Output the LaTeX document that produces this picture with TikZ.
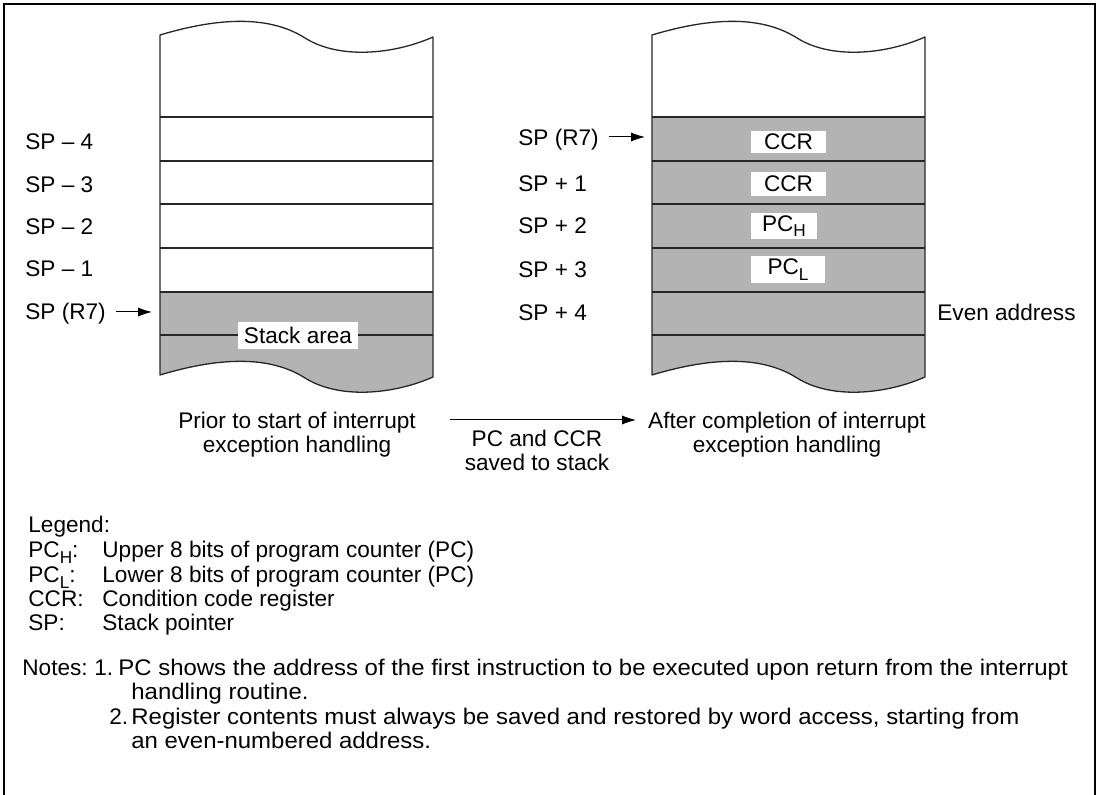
\documentclass[tikz,border=0pt]{standalone}
\usepackage{fontspec}
\setmainfont{Liberation Sans}
\usetikzlibrary{arrows.meta}
\definecolor{stackgray}{RGB}{179,179,179}
\newcommand\lsub[1]{\raisebox{-2.8pt}{\fontsize{8.6}{9}\selectfont #1}}
\begin{document}
\begin{tikzpicture}[x=0.5pt,y=-0.5pt,
  declare function={bz(\a,\b,\c,\d,\u)=(1-\u)^3*\a+3*(1-\u)^2*\u*\b+3*(1-\u)*\u^2*\c+\u^3*\d;},
  every node/.style={font=\fontsize{11.3}{12.2}\selectfont, inner sep=0pt},
  lab/.style={anchor=base west},
  mid/.style={anchor=base},
  stackline/.style={line width=0.65pt, draw=black!85, line join=round},
  arr/.style={line width=0.5pt, -{Latex[length=7pt,width=4.6pt]}},
  regbox/.style={fill=white, anchor=center},
  wv/.style={domain=0:1, samples=36, variable=\x}]
\useasboundingbox (0,0) rectangle (1100,795);
% frame
\draw[line width=1pt] (4,800) -- (4,4) -- (1095,4) -- (1095,800);
% left stack
\begin{scope}[xshift=80pt]
 \fill[white] (0,35) -- plot[wv] ({bz(0,70,115,145,\x)},{bz(35,14,19,38,\x)}) -- plot[wv] ({bz(145,180,235,273,\x)},{bz(38,60,54,37,\x)}) -- (273,377) -- plot[wv] ({bz(273,235,180,145,\x)},{bz(377,394,400,378,\x)}) -- plot[wv] ({bz(145,115,70,0,\x)},{bz(378,359,354,375,\x)}) -- cycle;
 \begin{scope}
  \clip (0,35) -- plot[wv] ({bz(0,70,115,145,\x)},{bz(35,14,19,38,\x)}) -- plot[wv] ({bz(145,180,235,273,\x)},{bz(38,60,54,37,\x)}) -- (273,377) -- plot[wv] ({bz(273,235,180,145,\x)},{bz(377,394,400,378,\x)}) -- plot[wv] ({bz(145,115,70,0,\x)},{bz(378,359,354,375,\x)}) -- cycle;
  \fill[stackgray] (0,292) rectangle (273,410);
 \end{scope}
 \draw[stackline] (0,35) -- plot[wv] ({bz(0,70,115,145,\x)},{bz(35,14,19,38,\x)}) -- plot[wv] ({bz(145,180,235,273,\x)},{bz(38,60,54,37,\x)}) -- (273,377) -- plot[wv] ({bz(273,235,180,145,\x)},{bz(377,394,400,378,\x)}) -- plot[wv] ({bz(145,115,70,0,\x)},{bz(378,359,354,375,\x)}) -- cycle;
 \foreach \yy in {117,161,204,248,292,335} \draw[stackline] (0,\yy) -- (273,\yy);
\end{scope}
% right stack
\begin{scope}[xshift=326pt]
 \fill[white] (0,35) -- plot[wv] ({bz(0,70,115,145,\x)},{bz(35,14,19,38,\x)}) -- plot[wv] ({bz(145,180,235,273,\x)},{bz(38,60,54,37,\x)}) -- (273,377) -- plot[wv] ({bz(273,235,180,145,\x)},{bz(377,394,400,378,\x)}) -- plot[wv] ({bz(145,115,70,0,\x)},{bz(378,359,354,375,\x)}) -- cycle;
 \begin{scope}
  \clip (0,35) -- plot[wv] ({bz(0,70,115,145,\x)},{bz(35,14,19,38,\x)}) -- plot[wv] ({bz(145,180,235,273,\x)},{bz(38,60,54,37,\x)}) -- (273,377) -- plot[wv] ({bz(273,235,180,145,\x)},{bz(377,394,400,378,\x)}) -- plot[wv] ({bz(145,115,70,0,\x)},{bz(378,359,354,375,\x)}) -- cycle;
  \fill[stackgray] (0,117) rectangle (273,410);
 \end{scope}
 \draw[stackline] (0,35) -- plot[wv] ({bz(0,70,115,145,\x)},{bz(35,14,19,38,\x)}) -- plot[wv] ({bz(145,180,235,273,\x)},{bz(38,60,54,37,\x)}) -- (273,377) -- plot[wv] ({bz(273,235,180,145,\x)},{bz(377,394,400,378,\x)}) -- plot[wv] ({bz(145,115,70,0,\x)},{bz(378,359,354,375,\x)}) -- cycle;
 \foreach \yy in {117,161,204,248,292,335} \draw[stackline] (0,\yy) -- (273,\yy);
\end{scope}
% left labels
\node[lab] (lm4) at (25,150) {SP – 4};
\node[lab] (lm3) at (25,193) {SP – 3};
\node[lab] (lm2) at (25,235) {SP – 2};
\node[lab] (lm1) at (25,277) {SP – 1};
\node[lab] (lsp) at (25,320) {SP (R7)};
\coordinate (la) at (152,312);
\draw[arr, shorten <=5pt] (lsp.east |- la) -- (la);
\node[regbox, minimum width=60pt, minimum height=13.5pt] (sarea) at (298,335.5) {Stack area};
% right labels
\node[lab] (rsp) at (518,146) {SP (R7)};
\node[lab] (rp1) at (518,192) {SP + 1};
\node[lab] (rp2) at (518,234) {SP + 2};
\node[lab] (rp3) at (518,278) {SP + 3};
\node[lab] (rp4) at (518,321) {SP + 4};
\coordinate (ra) at (645,137);
\draw[arr, shorten <=5pt] (rsp.east |- ra) -- (ra);
\node[regbox, minimum width=37.5pt, minimum height=11pt] (ccr1) at (788.5,142) {CCR};
\node[regbox, minimum width=37.5pt, minimum height=12pt] (ccr2) at (788.5,184) {CCR};
\node[regbox, minimum width=33pt, minimum height=13pt] (pch) at (784,226) {PC\lsub{H}};
\node[regbox, minimum width=37pt, minimum height=13.5pt] (pcl) at (788,269.5) {PC\lsub{L}};
\node[lab] (even) at (937,321) {Even address};
% captions
\node[mid] (pr1) at (297,429) {Prior to start of interrupt};
\node[mid] (pr2) at (297,453) {exception handling};
\node[mid] (af1) at (787,429) {After completion of interrupt};
\node[mid] (af2) at (787,453) {exception handling};
\coordinate (b1) at (450,420);
\coordinate (b2) at (636,420);
\draw[arr] (b1) -- (b2);
\node[mid] (sv1) at (537,447) {PC and CCR};
\node[mid] (sv2) at (537,471) {saved to stack};
% legend
\node[lab] (leg) at (28,533) {Legend:};
\node[lab] (lg1a) at (28,558) {PC\lsub{H}:};
\node[lab] (lg1b) at (102,558) {Upper 8 bits of program counter (PC)};
\node[lab] (lg2a) at (28,583) {PC\lsub{L}:};
\node[lab] (lg2b) at (102,583) {Lower 8 bits of program counter (PC)};
\node[lab] (lg3a) at (28,607) {CCR:};
\node[lab] (lg3b) at (102,607) {Condition code register};
\node[lab] (lg4a) at (28,631) {SP:};
\node[lab] (lg4b) at (102,631) {Stack pointer};
% notes
\node[lab] (nt) at (22,676) {Notes:};
\node[lab] (n1) at (94,676) {1.};
\node[lab] (n1a) at (118,676) {\scalebox{1.06}[1]{PC shows the address of the first instruction to be executed upon return from the interrupt}};
\node[lab] (n1b) at (131,700) {\scalebox{1.06}[1]{handling routine.}};
\node[lab] (n2) at (109,725) {2.};
\node[lab] (n2a) at (131,725) {\scalebox{1.06}[1]{Register contents must always be saved and restored by word access, starting from}};
\node[lab] (n2b) at (131,749) {\scalebox{1.06}[1]{an even-numbered address.}};
\end{tikzpicture}
\end{document}
